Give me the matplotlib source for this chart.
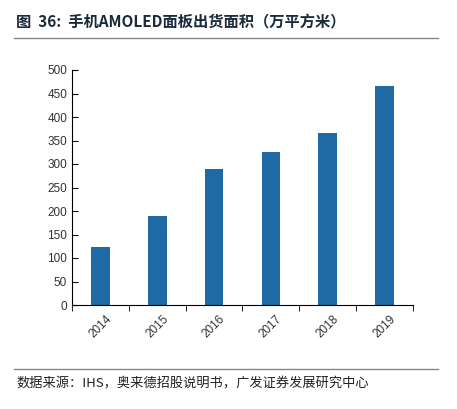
import matplotlib
matplotlib.use("Agg")
import matplotlib.pyplot as plt

plt.rcParams['font.family'] = ['Noto Sans CJK SC', 'DejaVu Sans']

years = ["2014", "2015", "2016", "2017", "2018", "2019"]
values = [123, 189, 289, 325, 366, 466]
yticks = list(range(0, 501, 50))

fig = plt.figure(figsize=(4.57, 4.09), dpi=100)
ax = fig.add_axes([72/457, 1-305/409, (413-72)/457, (305-70)/409])
x = list(range(len(years)))
ax.bar(x, values, width=0.33, color='#1f6aa5')
ax.set_xlim(-0.5, len(years)-0.5)
ax.set_ylim(0, 500)
ax.set_yticks(yticks)
ax.set_yticklabels([str(v) for v in yticks], fontsize=8.5, color='#333333', family='Liberation Sans')
ax.set_xticks(x)
ax.set_xticklabels(years, rotation=45, fontsize=8.5, color='#333333', family='Liberation Sans')
ax.tick_params(axis='x', length=0, pad=6)
ax.set_xticks([i-0.5 for i in range(len(years)+1)], minor=True)
ax.tick_params(axis='x', which='minor', length=4, direction='out')
ax.tick_params(axis='y', length=4, direction='in')
for s in ['top', 'right']:
    ax.spines[s].set_visible(False)

fig.text(16/457, 1-22/409, "图  36:  手机AMOLED面板出货面积（万平方米）", fontsize=11, weight='bold', color='#1a2a3a', va='center')
fig.add_artist(plt.Line2D([14/457, 438/457], [1-38/409]*2, color='#888888', lw=1))
fig.add_artist(plt.Line2D([14/457, 438/457], [1-369/409]*2, color='#888888', lw=1))
fig.text(16/457, 1-384/409, "数据来源：IHS，奥来德招股说明书，广发证券发展研究中心", fontsize=9.5, color='#222222', va='center')
fig.savefig("out.png", dpi=100)
